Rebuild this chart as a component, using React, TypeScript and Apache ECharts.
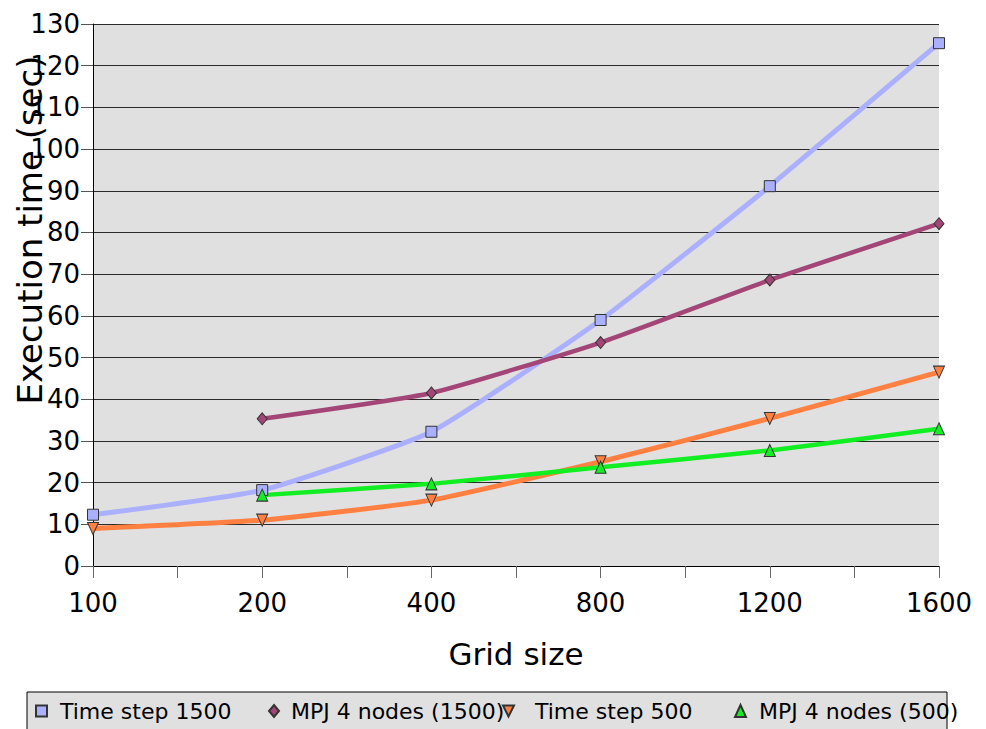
import React, { useEffect, useRef } from "react";
import * as echarts from "echarts";

// Grid sizes on the horizontal axis (placed on every other tick)
const gridSizes = ["100", "200", "400", "800", "1200", "1600"];

// Execution times in seconds, one entry per grid size (null = not measured)
const timeStep1500 = [12.3, 18.2, 32.2, 59.0, 91.1, 125.4];
const mpj1500 = [null, 35.3, 41.5, 53.6, 68.6, 82.1];
const timeStep500 = [9.0, 11.0, 15.8, 25.0, 35.4, 46.5];
const mpj500 = [null, 17.0, 19.7, 23.7, 27.7, 32.9];

const seriesNames = [
  "Time step 1500",
  "MPJ 4 nodes (1500)",
  "Time step 500",
  "MPJ 4 nodes (500)",
];

const FONT = "DejaVu Sans";

const toPoints = (values: (number | null)[]) =>
  values
    .map((v, i) => (v === null ? null : [i * 2, v]))
    .filter((p) => p !== null) as number[][];

export default function App() {
  const ref = useRef<HTMLDivElement>(null);

  useEffect(() => {
    if (!ref.current) return;
    const chart = echarts.init(ref.current, null, { renderer: "svg" });

    const mk = (
      name: string,
      values: (number | null)[],
      color: string,
      symbol: string,
      size: number | number[],
      width: number,
      rotate = 0
    ) => ({
      name,
      type: "line",
      data: toPoints(values),
      smooth: 0.15,
      symbol,
      symbolSize: size,
      symbolRotate: rotate,
      showSymbol: true,
      lineStyle: { color, width },
      itemStyle: { color, borderColor: "#333", borderWidth: 1 },
      z: 3,
    });

    const legendItem = (name: string, icon: string, left: number, gap: number, w = 10, h = 10) => ({
      data: [{ name, icon }],
      left,
      top: 700,
      padding: 0,
      itemWidth: w,
      itemHeight: h,
      selectedMode: false,
      textStyle: {
        fontFamily: FONT,
        fontSize: 22,
        color: "#000",
        padding: [0, 0, 0, gap],
      },
    });

    chart.setOption({
      animation: false,
      textStyle: { fontFamily: FONT },
      grid: {
        left: 93,
        right: 47,
        top: 24,
        bottom: 163,
        show: true,
        backgroundColor: "#e0e0e0",
        borderWidth: 0,
      },
      xAxis: {
        type: "value",
        min: 0,
        max: 10,
        interval: 1,
        name: "Grid size",
        nameLocation: "middle",
        nameGap: 72,
        nameTextStyle: { fontFamily: FONT, fontSize: 31, color: "#000" },
        axisLine: { lineStyle: { color: "#000", width: 1 } },
        axisTick: { show: true, length: 12, lineStyle: { color: "#666" } },
        axisLabel: {
          fontFamily: FONT,
          fontSize: 26,
          color: "#000",
          margin: 24,
          formatter: (v: number) => (v % 2 === 0 ? gridSizes[v / 2] : ""),
        },
        splitLine: { show: false },
      },
      yAxis: {
        type: "value",
        min: 0,
        max: 130,
        interval: 10,
        axisLine: { show: true, lineStyle: { color: "#000", width: 1 } },
        axisTick: { show: true, length: 12, lineStyle: { color: "#555" } },
        axisLabel: {
          fontFamily: FONT,
          fontSize: 26,
          color: "#000",
          margin: 13,
        },
        splitLine: { show: true, lineStyle: { color: "#2a2a2a", width: 1 } },
      },
      legend: [
        legendItem(seriesNames[0], "rect", 35, 8, 11, 11),
        legendItem(seriesNames[1], "diamond", 268, 7, 10, 12),
        legendItem(seriesNames[2], "path://M0,0 L10,0 L5,10 Z", 502, 16, 11, 12),
        legendItem(seriesNames[3], "triangle", 734, 8, 11, 12),
      ],
      graphic: [
        {
          type: "rect",
          z: 0,
          shape: { x: 27, y: 692, width: 920, height: 60 },
          style: { fill: "#e0e0e0", stroke: "#000", lineWidth: 1 },
        },
        {
          type: "text",
          z: 5,
          x: 30,
          y: 230,
          rotation: Math.PI / 2,
          style: {
            text: "Execution time (sec)",
            fontFamily: FONT,
            fontSize: 34,
            fill: "#000",
            align: "center",
            verticalAlign: "middle",
          },
        },
      ],
      series: [
        mk(seriesNames[0], timeStep1500, "#aab0ff", "rect", 11, 5),
        mk(seriesNames[1], mpj1500, "#a34677", "diamond", [10, 12], 4.5),
        mk(seriesNames[2], timeStep500, "#ff8040", "triangle", [11, 12], 5, 180),
        mk(seriesNames[3], mpj500, "#11ee22", "triangle", [11, 12], 4.5),
      ],
    });

    return () => chart.dispose();
  }, []);

  return (
    <div
      ref={ref}
      style={{ position: "absolute", left: 0, top: 0, width: 986, height: 729 }}
    />
  );
}
